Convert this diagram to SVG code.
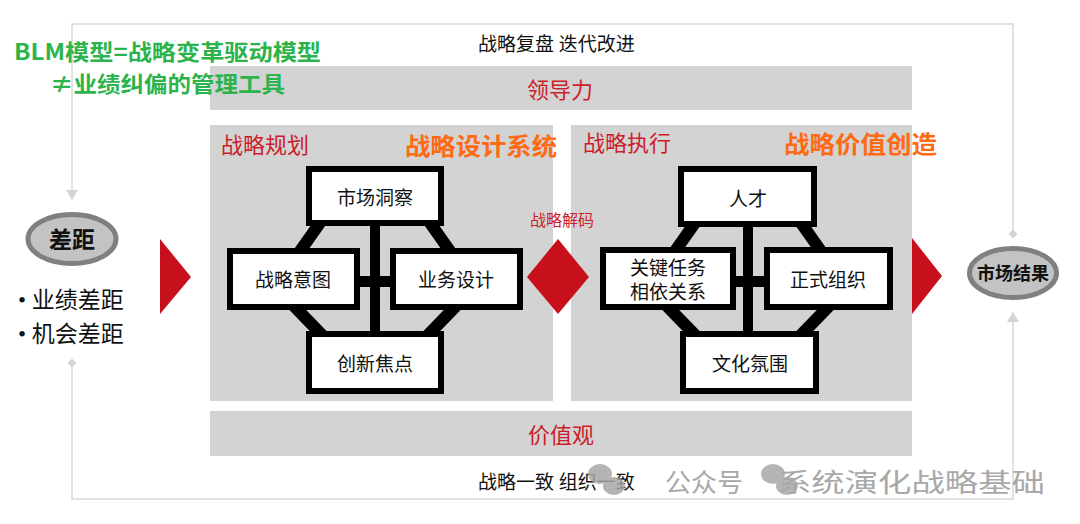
<svg xmlns="http://www.w3.org/2000/svg" width="1080" height="524" viewBox="0 0 1080 524">
<defs>
<style>
.panel{fill:#d3d3d3}
.box{fill:#fff;stroke:#000;stroke-width:6}
.bt{font-family:"Liberation Serif","Noto Sans CJK SC",serif;font-size:19px;fill:#111;text-anchor:middle}
.red{font-family:"Liberation Serif","Noto Sans CJK SC",serif;fill:#cc1d2b}
.org{font-family:"Noto Sans CJK SC",sans-serif;font-weight:bold;font-size:24px;fill:#ff6a13}
.blk{font-family:"Liberation Serif","Noto Sans CJK SC",serif;fill:#111}
.frame{fill:none;stroke:#d9d9d9;stroke-width:1.5}
.bar{stroke:#000;stroke-width:12;stroke-linecap:butt}
.tri{fill:#c8101c}
.wm{font-family:"Noto Sans CJK SC",sans-serif;font-size:26px;fill:#9a9a9a}
.green{font-family:"Noto Sans CJK SC",sans-serif;font-weight:bold;font-size:22px;fill:#2db34b}
</style>
<marker id="arr" viewBox="0 0 10 12" refX="10" refY="6" markerWidth="10" markerHeight="12" markerUnits="userSpaceOnUse" orient="auto"><path d="M0,0 L10,6 L0,12 z" fill="#d4d4d4"/></marker>
<marker id="dia" viewBox="0 0 10 10" refX="5" refY="5" markerWidth="9" markerHeight="9" markerUnits="userSpaceOnUse" orient="auto"><path d="M0,5 L5,0 L10,5 L5,10 z" fill="#d4d4d4"/></marker>
</defs>
<rect width="1080" height="524" fill="#fff"/>

<g id="connectors">
<path class="frame" d="M1013,234 V24 H72 V200" marker-start="url(#dia)" marker-end="url(#arr)"/>
<path class="frame" d="M72,363 V499 H1013 V312" marker-start="url(#dia)" marker-end="url(#arr)"/>
</g>

<text class="blk" x="478" y="51" font-size="19">战略复盘 迭代改进</text>

<g id="leadership">
<rect class="panel" x="210" y="66" width="702" height="44"/>
<text class="red" x="560" y="98" font-size="22" text-anchor="middle">领导力</text>
</g>

<g id="values">
<rect class="panel" x="210" y="411" width="702" height="45"/>
<text class="red" x="561" y="443" font-size="22" text-anchor="middle">价值观</text>
</g>

<text class="blk" x="478" y="489" font-size="19">战略一致 组织一致</text>

<g id="gap">
<ellipse cx="72" cy="239" rx="44" ry="24.5" fill="#c3c3c3" stroke="#808080" stroke-width="5"/>
<text class="blk" x="72" y="248" font-size="23" font-weight="bold" text-anchor="middle">差距</text>
<text class="blk" x="18" y="308" font-size="23">• 业绩差距</text>
<text class="blk" x="18" y="342" font-size="23">• 机会差距</text>
</g>

<polygon id="arrow-left" class="tri" points="160,239 191,277 160,314"/>

<g id="planning">
<rect class="panel" x="210" y="125" width="343" height="276"/>
<text class="red" x="221" y="153" font-size="22">战略规划</text>
<text class="org" x="405" y="155" textLength="152" lengthAdjust="spacingAndGlyphs">战略设计系统</text>
<g id="planning-links">
<rect x="370" y="220" width="10" height="115" fill="#000"/>
<rect x="355" y="276" width="40" height="11" fill="#000"/>
<line class="bar" x1="322" y1="220" x2="298" y2="254"/>
<line class="bar" x1="428" y1="220" x2="452" y2="254"/>
<line class="bar" x1="291" y1="303" x2="323" y2="336"/>
<line class="bar" x1="459" y1="303" x2="427" y2="336"/>
</g>
<g id="market-insight"><rect class="box" x="309" y="169" width="132" height="54"/><text class="bt" x="375" y="205">市场洞察</text></g>
<g id="strategic-intent"><rect class="box" x="230" y="251" width="127" height="56"/><text class="bt" x="293" y="287">战略意图</text></g>
<g id="business-design"><rect class="box" x="393" y="251" width="127" height="56"/><text class="bt" x="456" y="287">业务设计</text></g>
<g id="innovation-focus"><rect class="box" x="309" y="334" width="132" height="57"/><text class="bt" x="375" y="371">创新焦点</text></g>
</g>

<g id="execution">
<rect class="panel" x="571" y="125" width="341" height="276"/>
<text class="red" x="583" y="151" font-size="22">战略执行</text>
<text class="org" x="784" y="153" textLength="153" lengthAdjust="spacingAndGlyphs">战略价值创造</text>
<g id="execution-links">
<rect x="743" y="220" width="10" height="115" fill="#000"/>
<rect x="728" y="276" width="40" height="11" fill="#000"/>
<line class="bar" x1="697" y1="220" x2="673" y2="254"/>
<line class="bar" x1="799" y1="220" x2="823" y2="254"/>
<line class="bar" x1="664" y1="303" x2="696" y2="336"/>
<line class="bar" x1="832" y1="303" x2="800" y2="336"/>
</g>
<g id="talent"><rect class="box" x="681" y="169" width="133" height="55"/><text class="bt" x="748" y="206">人才</text></g>
<g id="critical-tasks"><rect class="box" x="603" y="250" width="130" height="57"/><text class="bt" x="668" y="275">关键任务</text><text class="bt" x="668" y="299">相依关系</text></g>
<g id="formal-org"><rect class="box" x="767" y="250" width="123" height="57"/><text class="bt" x="828" y="287">正式组织</text></g>
<g id="culture"><rect class="box" x="683" y="334" width="133" height="57"/><text class="bt" x="750" y="371">文化氛围</text></g>
</g>

<g id="decode">
<polygon class="tri" points="558,239 589,277 558,314 527,277"/>
<text class="red" x="562" y="226" font-size="16" text-anchor="middle">战略解码</text>
</g>

<polygon id="arrow-right" class="tri" points="912,238 942,276 912,314"/>

<g id="market-result">
<ellipse cx="1013" cy="273" rx="43.5" ry="24.5" fill="#c3c3c3" stroke="#808080" stroke-width="5"/>
<text class="blk" x="1013" y="280" font-size="18" font-weight="bold" text-anchor="middle">市场结果</text>
</g>

<g id="title">
<text class="green" x="14" y="60" textLength="307" lengthAdjust="spacingAndGlyphs">BLM模型=战略变革驱动模型</text>
<text class="green" x="50" y="92" textLength="235" lengthAdjust="spacingAndGlyphs">≠业绩纠偏的管理工具</text>
</g>

<g id="watermark" opacity="0.85">
<ellipse cx="600" cy="474" rx="12" ry="10" fill="#a8a8a8"/>
<ellipse cx="614" cy="486" rx="11" ry="9" fill="#a8a8a8"/>
<text class="wm" x="665" y="492">公众号</text>
<ellipse cx="773" cy="474" rx="12" ry="10" fill="#a8a8a8"/>
<ellipse cx="787" cy="486" rx="11" ry="9" fill="#a8a8a8"/>
<text class="wm" x="778" y="492" textLength="267" lengthAdjust="spacingAndGlyphs">系统演化战略基础</text>
</g>
</svg>
